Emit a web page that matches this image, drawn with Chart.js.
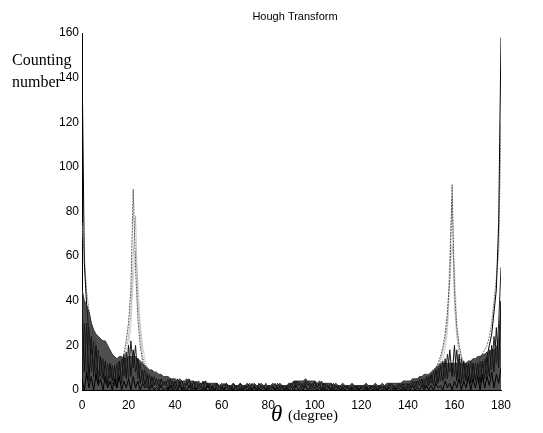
<!DOCTYPE html>
<html>
<head>
<meta charset="utf-8">
<title>Hough Transform</title>
<script src="https://cdn.jsdelivr.net/npm/chart.js@4.4.1/dist/chart.umd.min.js"></script>
<style>
    body { margin: 0; background: #fff; }
    #wrap { width: 543px; height: 433px; }
</style>
</head>
<body>
<div id="wrap"><canvas id="hough" width="543" height="433"></canvas></div>
<script>
// Hough transform counts, theta in degrees (0..180)

// x ticks / y ticks
const xTicks = [0, 20, 40, 60, 80, 100, 120, 140, 160, 180];
const yTicks = [0, 20, 40, 60, 80, 100, 120, 140, 160];

// background noise curves, one value per degree from 0 to 180
const noise1 = [
    35, 8, 30, 4, 24, 6, 20, 3, 15, 5,
    13, 2, 12, 4, 11, 1, 13, 3, 16, 5,
    20, 6, 18, 8, 14, 3, 9, 2, 7, 1,
    6, 2, 5, 1, 5, 2, 4, 0, 5, 1,
    4, 1, 4, 0, 3, 2, 5, 1, 4, 0,
    3, 1, 4, 0, 3, 1, 2, 0, 3, 1,
    2, 0, 3, 1, 2, 0, 2, 1, 3, 0,
    2, 1, 3, 0, 2, 0, 3, 1, 2, 0,
    2, 1, 2, 0, 3, 1, 2, 0, 2, 1,
    3, 1, 4, 2, 3, 1, 4, 2, 3, 1,
    4, 1, 3, 0, 3, 1, 2, 0, 3, 1,
    2, 0, 2, 1, 2, 0, 2, 1, 2, 0,
    2, 1, 2, 0, 2, 1, 2, 0, 2, 1,
    2, 0, 3, 1, 2, 0, 3, 1, 3, 0,
    3, 1, 4, 1, 4, 2, 5, 1, 6, 2,
    7, 2, 9, 3, 11, 4, 14, 5, 18, 6,
    20, 4, 16, 3, 13, 4, 12, 3, 12, 4,
    12, 3, 13, 5, 15, 6, 20, 8, 28, 10,
    40
];
const noise2 = [
    10, 30, 5, 28, 8, 22, 4, 18, 6, 14,
    3, 12, 5, 11, 2, 12, 4, 14, 6, 17,
    5, 22, 10, 20, 5, 12, 3, 9, 2, 7,
    1, 6, 2, 5, 1, 4, 2, 5, 0, 4,
    1, 5, 2, 4, 0, 4, 1, 3, 0, 4,
    1, 3, 0, 4, 1, 3, 0, 3, 1, 2,
    0, 3, 1, 2, 0, 3, 1, 2, 0, 2,
    1, 2, 0, 3, 1, 2, 0, 2, 1, 3,
    0, 2, 1, 3, 0, 2, 1, 2, 0, 3,
    1, 4, 2, 4, 1, 3, 2, 4, 1, 3,
    1, 3, 2, 4, 0, 3, 1, 3, 0, 2,
    1, 2, 0, 2, 1, 2, 0, 2, 0, 2,
    1, 2, 0, 2, 1, 2, 0, 2, 1, 2,
    0, 2, 1, 3, 0, 2, 1, 3, 0, 3,
    1, 3, 2, 4, 1, 5, 2, 5, 1, 6,
    3, 8, 2, 10, 4, 13, 5, 16, 8, 12,
    6, 18, 5, 14, 4, 12, 5, 13, 4, 12,
    5, 13, 4, 14, 6, 18, 9, 24, 12, 30,
    55
];
// upper edge of the dense dark band
const noiseTop = [
    45, 40, 38, 35, 30, 27, 25, 24, 23, 22,
    22, 20, 18, 16, 15, 14, 15, 15, 14, 14,
    15, 15, 15, 15, 14, 13, 12, 11, 10, 9,
    9, 8, 8, 7, 7, 6, 6, 6, 5, 5,
    5, 4, 5, 4, 4, 5, 4, 4, 4, 3,
    4, 3, 3, 4, 3, 3, 3, 3, 3, 2,
    3, 2, 3, 2, 2, 3, 2, 2, 3, 2,
    2, 3, 2, 2, 3, 2, 2, 3, 2, 2,
    2, 2, 3, 2, 2, 3, 2, 2, 2, 3,
    3, 4, 4, 4, 4, 4, 5, 4, 4, 4,
    4, 3, 4, 3, 3, 3, 3, 3, 2, 3,
    2, 2, 3, 2, 2, 2, 3, 2, 2, 2,
    2, 2, 3, 2, 2, 2, 3, 2, 2, 3,
    2, 3, 3, 3, 3, 3, 3, 3, 4, 4,
    4, 4, 5, 5, 5, 6, 6, 7, 7, 7,
    8, 9, 10, 11, 12, 12, 12, 12, 12, 12,
    12, 12, 12, 12, 12, 12, 13, 13, 14, 14,
    15, 15, 16, 16, 17, 17, 18, 18, 19, 22,
    40
];
const noise4 = [
    5, 0, 8, 1, 6, 0, 7, 2, 5, 0,
    6, 1, 4, 0, 5, 1, 6, 0, 4, 1,
    5, 0, 6, 1, 4, 0, 3, 1, 2, 0,
    2, 0, 1, 0, 2, 0, 1, 0, 2, 0,
    1, 0, 2, 0, 1, 0, 2, 0, 1, 0,
    1, 0, 1, 0, 2, 0, 1, 0, 1, 0,
    1, 0, 1, 0, 1, 0, 1, 0, 1, 0,
    1, 0, 1, 0, 1, 0, 1, 0, 1, 0,
    1, 0, 1, 0, 1, 0, 1, 0, 1, 0,
    1, 0, 2, 0, 1, 0, 2, 0, 1, 0,
    1, 0, 1, 0, 1, 0, 1, 0, 1, 0,
    1, 0, 1, 0, 1, 0, 1, 0, 1, 0,
    1, 0, 1, 0, 1, 0, 1, 0, 1, 0,
    1, 0, 1, 0, 1, 0, 1, 0, 1, 0,
    1, 0, 2, 0, 1, 0, 2, 0, 2, 0,
    2, 0, 3, 1, 2, 0, 4, 1, 3, 0,
    4, 1, 5, 0, 4, 1, 6, 0, 5, 1,
    6, 0, 7, 1, 6, 2, 8, 1, 7, 3,
    10
];

// peak bundle around 22 degrees, starting at 12
const peak22From = 12;
const peak22a = [4, 5, 6, 7, 9, 12, 16, 22, 30, 45, 90, 55, 32, 20, 13, 9, 7, 5, 4];
const peak22b = [3, 4, 5, 6, 8, 10, 13, 18, 24, 35, 60, 78, 40, 26, 16, 11, 8, 6, 5];
const peak22c = [2, 3, 4, 5, 6, 8, 10, 14, 20, 28, 50, 62, 48, 30, 20, 14, 10, 7, 5];

// peak bundle around 159 degrees, starting at 148
const peak159From = 148;
const peak159a = [5, 6, 7, 8, 10, 12, 15, 19, 25, 35, 50, 92, 45, 28, 20, 15, 12, 10, 9, 8, 7];
const peak159b = [4, 5, 6, 7, 8, 10, 13, 17, 22, 30, 60, 86, 38, 24, 16, 12, 10, 9, 8, 7, 6];
const peak159c = [3, 4, 5, 6, 7, 9, 11, 14, 18, 26, 48, 65, 55, 30, 20, 14, 11, 9, 8, 7, 6];

// edges: left starts at 0, right starts at 165
const edgeLeft = [150, 57, 38, 25, 18, 12, 10, 8, 6, 5, 4, 4, 3, 3, 2, 2];
const edgeLeftGray = [75, 60, 44, 36, 30, 24, 20, 16, 14, 12, 10, 9, 8, 7, 6, 5];
const edgeRightFrom = 165;
const edgeRight = [3, 4, 4, 5, 6, 7, 8, 10, 12, 15, 20, 25, 35, 45, 75, 158];
const edgeRightGray = [8, 9, 10, 11, 12, 13, 14, 16, 18, 20, 24, 30, 40, 50, 62, 120];

function toPoints(values, from) {
    return values.map((v, i) => ({ x: from + i, y: v }));
}

function line(values, from, color, dash) {
    return {
        data: toPoints(values, from),
        borderColor: color,
        borderWidth: 1,
        borderDash: dash || [],
        pointRadius: 0,
        tension: 0,
        fill: false
    };
}

// Text around the plot (title, axis labels)
const textPlugin = {
    id: 'houghText',
    afterDraw(chart) {
        const ctx = chart.ctx;
        ctx.save();
        ctx.fillStyle = '#000';
        ctx.textBaseline = 'alphabetic';

        ctx.font = '11px "Liberation Sans", Arial, sans-serif';
        ctx.textAlign = 'center';
        ctx.fillText('Hough Transform', 295, 20);

        ctx.font = '16px "Liberation Serif", "Times New Roman", serif';
        ctx.textAlign = 'left';
        ctx.fillText('Counting', 12, 65);
        ctx.fillText('number', 12, 87);

        ctx.font = 'italic 23px "Liberation Serif", "Times New Roman", serif';
        ctx.fillText('\u03b8', 271, 421);
        ctx.font = '15px "Liberation Serif", "Times New Roman", serif';
        ctx.fillText('(degree)', 288, 420);
        ctx.restore();
    }
};

const shade = line(noiseTop, 0, '#333');
shade.fill = 'origin';
shade.backgroundColor = 'rgba(35, 35, 35, 0.8)';

const ctx = document.getElementById('hough').getContext('2d');
const houghChart = new Chart(ctx, {
    type: 'line',
    data: {
        datasets: [
            line(noise4, 0, '#000'),
            line(noise1, 0, '#111'),
            line(noise2, 0, '#222'),
            shade,
            line(edgeLeft, 0, '#000'),
            line(edgeRight, edgeRightFrom, '#000'),
            line(edgeLeftGray, 0, '#888', [2, 1]),
            line(edgeRightGray, edgeRightFrom, '#777', [2, 1]),
            line(peak22a, peak22From, '#555', [2, 1]),
            line(peak22b, peak22From, '#888', [1, 1]),
            line(peak22c, peak22From, '#aaa', [1, 1]),
            line(peak159a, peak159From, '#555', [2, 1]),
            line(peak159b, peak159From, '#888', [1, 1]),
            line(peak159c, peak159From, '#aaa', [1, 1])
        ]
    },
    options: {
        responsive: false,
        animation: false,
        events: [],
        layout: { padding: { top: 33, right: 42, left: 0, bottom: 0 } },
        plugins: {
            legend: { display: false },
            tooltip: { enabled: false },
            title: { display: false },
            filler: { propagate: false }
        },
        scales: {
            x: {
                type: 'linear',
                min: 0,
                max: 180,
                afterFit: s => { s.height = 43; },
                afterBuildTicks: s => { s.ticks = xTicks.map(v => ({ value: v })); },
                grid: { display: false, drawTicks: false, tickLength: 0 },
                border: { display: true, color: '#000', width: 1 },
                ticks: {
                    padding: 8,
                    color: '#000',
                    maxRotation: 0,
                    font: { family: '"Liberation Sans", Arial, sans-serif', size: 12 }
                }
            },
            y: {
                type: 'linear',
                min: 0,
                max: 160,
                afterFit: s => { s.width = 82; },
                afterBuildTicks: s => { s.ticks = yTicks.map(v => ({ value: v })); },
                grid: { display: false, drawTicks: false, tickLength: 0 },
                border: { display: true, color: '#000', width: 1 },
                ticks: {
                    padding: 3,
                    color: '#000',
                    font: { family: '"Liberation Sans", Arial, sans-serif', size: 12 }
                }
            }
        }
    },
    plugins: [textPlugin]
});
</script>
</body>
</html>
